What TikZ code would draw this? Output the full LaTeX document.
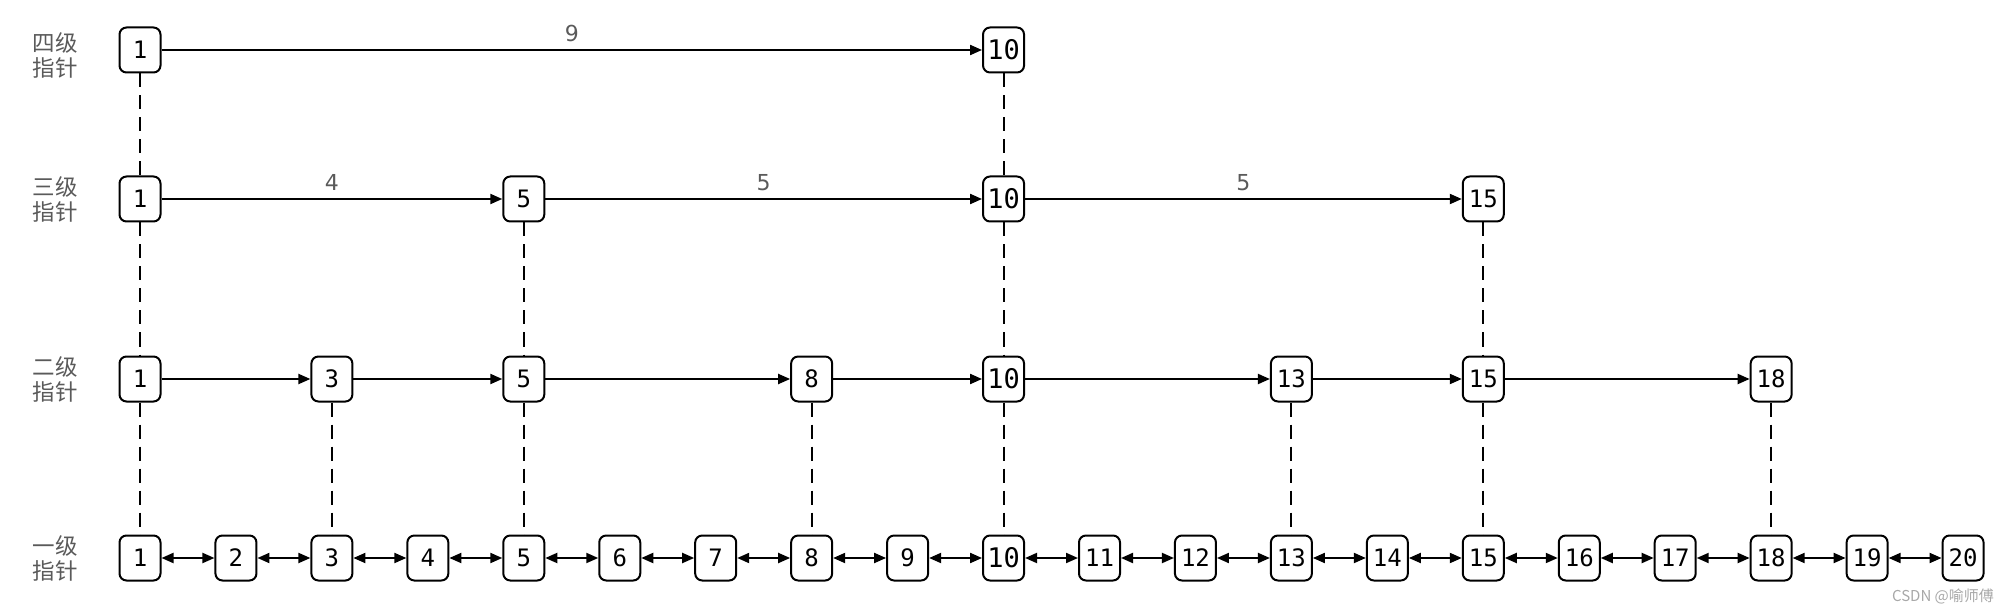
\documentclass[tikz,border=0pt]{standalone}
\usepackage{fontspec}
\setmainfont{DejaVu Sans}
\newfontfamily\cjk{Noto Sans CJK SC}
\newfontfamily\mono{DejaVu Sans Mono}
\usetikzlibrary{arrows.meta}
\definecolor{labelgray}{HTML}{5A5A5A}
\definecolor{markgray}{HTML}{A8A8A8}
\begin{document}
\begin{tikzpicture}[x=1pt,y=-1pt,
 box/.style={draw, line width=2pt, rounded corners=7pt, minimum width=41pt, minimum height=45pt, inner sep=0pt, fill=white, font=\mono\fontsize{24}{24}\selectfont},
 lvl/.style={font=\cjk\fontsize{22.5}{25}\selectfont, text=labelgray, align=center},
 link/.style={line width=2pt, -{Triangle[length=12pt,width=10pt]}},
 dlink/.style={line width=2pt, {Triangle[length=12pt,width=10pt]}-{Triangle[length=12pt,width=10pt]}},
 vdash/.style={line width=2pt, dash pattern=on 14pt off 8pt},
 wlabel/.style={font=\fontsize{22}{22}\selectfont, text=labelgray}]
\useasboundingbox (0,0) rectangle (2008,612);
% level labels
\node[lvl] (l4) at (55,55) {四级\\指针};
\node[lvl] (l3) at (55,199) {三级\\指针};
\node[lvl] (l2) at (55,379) {二级\\指针};
\node[lvl] (l1) at (55,558) {一级\\指针};
% level 1
\foreach \i in {1,...,20}{
  \node[box] (a\i) at ({140+95.95*(\i-1)},558) {\ifnum\i=10 \fontsize{27}{27}\selectfont\fi\i};
}
% level 2
\foreach \i in {1,3,5,8,10,13,15,18}{
  \node[box] (b\i) at ({140+95.95*(\i-1)},379) {\ifnum\i=10 \fontsize{27}{27}\selectfont\fi\i};
}
% level 3
\foreach \i in {1,5,10,15}{
  \node[box] (c\i) at ({140+95.95*(\i-1)},199) {\ifnum\i=10 \fontsize{27}{27}\selectfont\fi\i};
}
% level 4
\foreach \i in {1,10}{
  \node[box] (d\i) at ({140+95.95*(\i-1)},50) {\ifnum\i=10 \fontsize{27}{27}\selectfont\fi\i};
}
% dashed verticals
\foreach \i in {1,10}{\draw[vdash] (d\i.south) -- (c\i.north);}
\foreach \i in {1,5,10,15}{\draw[vdash] (c\i.south) -- (b\i.north);}
\foreach \i in {1,3,5,8,10,13,15,18}{\draw[vdash] (b\i.south) -- (a\i.north);}
% level 1 links
\foreach \i [evaluate=\i as \j using int(\i+1)] in {1,...,19}{
  \draw[dlink] (a\i.east) -- (a\j.west);
}
% level 2 links
\draw[link] (b1.east) -- (b3.west);
\draw[link] (b3.east) -- (b5.west);
\draw[link] (b5.east) -- (b8.west);
\draw[link] (b8.east) -- (b10.west);
\draw[link] (b10.east) -- (b13.west);
\draw[link] (b13.east) -- (b15.west);
\draw[link] (b15.east) -- (b18.west);
% level 3 links
\draw[link] (c1.east) -- node[wlabel, above=4pt] (w1) {4} (c5.west);
\draw[link] (c5.east) -- node[wlabel, above=4pt] (w2) {5} (c10.west);
\draw[link] (c10.east) -- node[wlabel, above=4pt] (w3) {5} (c15.west);
% level 4 link
\draw[link] (d1.east) -- node[wlabel, above=4pt] (w4) {9} (d10.west);
% watermark
\node[font=\cjk\fontsize{15}{15}\selectfont, text=markgray] (wm) at (1943,596) {CSDN @喻师傅};
\end{tikzpicture}
\end{document}
